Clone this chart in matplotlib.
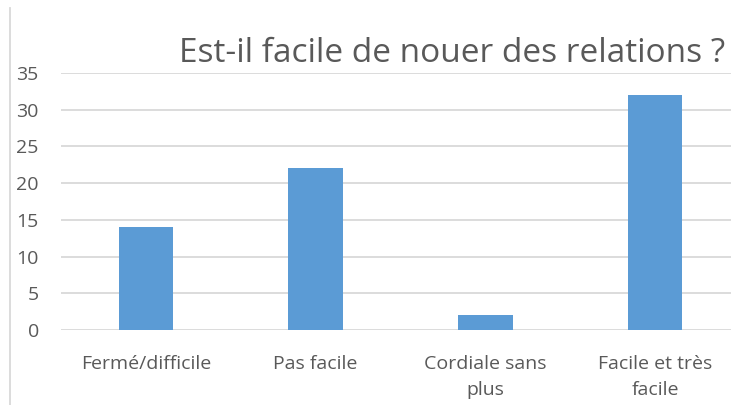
import matplotlib
matplotlib.use("Agg")
import matplotlib.pyplot as plt
from matplotlib.lines import Line2D

categories = ["Fermé/difficile", "Pas facile", "Cordiale sans\nplus", "Facile et très\nfacile"]
values = [14, 22, 2, 32]
yticks = [0, 5, 10, 15, 20, 25, 30, 35]
title = "Est-il facile de nouer des relations ?"

plt.rcParams['font.family'] = ['Open Sans', 'DejaVu Sans']
W, H = 731, 405
fig = plt.figure(figsize=(W/100, H/100), dpi=100)
ax = fig.add_axes([61/W, 1-330/H, (740-61)/W, (330-73)/H])

grey = "#595959"
ax.bar(range(len(values)), values, width=0.32, color="#5B9BD5", zorder=3)
ax.set_xlim(-0.5, 3.5)
ax.set_ylim(0, 35)
ax.set_yticks(yticks)
ax.set_xticks(range(len(categories)))
ax.set_xticklabels(categories, linespacing=1.6)
ax.grid(axis='y', color="#D9D9D9", linewidth=1.3, zorder=0)
for s in ax.spines.values():
    s.set_visible(False)
ax.tick_params(axis='y', length=0, pad=16, labelsize=14, labelcolor=grey)
ax.tick_params(axis='x', length=0, pad=18, labelsize=14, labelcolor=grey)

fig.text(452/W, 1-53/H, title, ha='center', va='center', fontsize=24, color=grey)
fig.add_artist(Line2D([10/W, 10/W], [0, 1-8/H], transform=fig.transFigure, color="#D9D9D9", linewidth=1.3))

fig.savefig("out.png", dpi=100)
